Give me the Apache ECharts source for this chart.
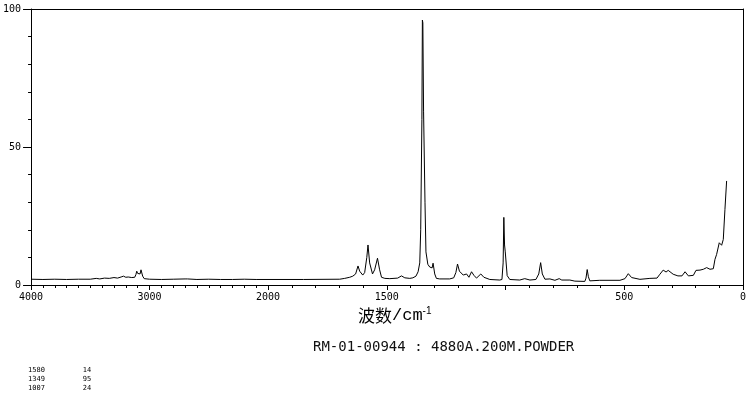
<!DOCTYPE html>
<html>
<head>
<meta charset="utf-8">
<script src="https://cdn.jsdelivr.net/npm/echarts@6/dist/echarts.min.js"></script>
<style>html,body{margin:0;padding:0;background:#fff}#c{width:753px;height:402px}</style>
</head>
<body>
<div id="c"></div>
<script>
// Raman spectrum, 4000-2000 cm-1 (half scale)
const highWavenumbers = [4000,3900,3800,3700,3600,3500,3450,3420,3380,3340,3300,3270,3240,3220,3200,3180,3150,3125,3115,3108,3100,3090,3080,3072,3066,3058,3045,3000,2900,2800,2700,2690,2680,2600,2500,2400,2300,2200,2100,2000];
const highIntensity   = [2.1,2.0,2.1,2.0,2.1,2.1,2.4,2.2,2.5,2.4,2.7,2.5,2.9,3.2,2.8,2.9,2.7,2.8,3.8,5.0,4.2,3.6,4.0,5.5,5.7,3.2,2.3,2.1,2.0,2.1,2.2,2.7,2.2,2.0,2.1,2.0,2.0,2.1,2.0,2.0];
// 2000-0 cm-1
const lowWavenumbers = [2000,1850,1698,1677,1656,1643,1631,1621,1614,1601,1593,1584,1579,1572,1560,1551,1539,1530,1522,1508,1487,1454,1438,1424,1403,1390,1377,1368,1361,1357,1352,1350,1348,1345,1342,1339,1335,1327,1319,1313,1309,1305,1298,1291,1277,1235,1218,1209,1202,1194,1178,1164,1154,1143,1133,1122,1104,1091,1066,1024,1015,1010,1007,1004,1001,993,982,940,919,897,872,860,852,845,834,813,792,774,763,729,708,666,661,656,651,645,603,518,497,483,469,434,392,362,350,336,324,315,294,274,257,244,230,209,198,181,167,153,139,125,118,111,100,90,83,76,69];
const lowIntensity   = [2.0,2.0,2.1,2.4,2.8,3.2,4.0,6.9,5.0,3.6,4.5,10,14.5,8,4.0,5.5,9.7,5.5,2.8,2.4,2.3,2.5,3.3,2.6,2.4,2.6,3.2,4.8,8,20,60,96,95,63,63,30,12,7.5,6.5,7.0,6.2,7.9,4.0,2.4,2.2,2.2,2.6,4.5,7.6,5.0,3.6,4.0,2.8,4.8,3.5,2.5,4.0,2.8,2.0,1.8,2.0,8,24.5,14.5,12,3.4,2.0,1.8,2.3,1.8,2.0,4.0,8.1,4.0,2.1,2.2,1.7,2.3,1.8,1.8,1.4,1.3,2.5,5.6,3.0,1.5,1.7,1.7,2.3,4.1,2.7,2.05,2.4,2.5,3.9,5.4,4.7,5.3,3.9,3.3,3.3,4.8,3.3,3.5,5.3,5.4,5.7,6.3,5.7,5.9,9.3,11.1,15.3,14.4,16.5,27.4,37.7];

const xTickLabels = [4000, 3000, 2000, 1500, 500, 0];
const yTickLabels = [0, 50, 100];
const peakPositions = [1580, 1349, 1007];
const peakValues = [14, 95, 24];
const xAxisNameCJK = '波数';
const xAxisNameUnit = '/cm';
const xAxisNameSup = '-1';
const sampleTitle = 'RM-01-00944 : 4880A.200M.POWDER';

const highData = highWavenumbers.map((w, i) => [w, highIntensity[i]]);
const lowData = lowWavenumbers.map((w, i) => [w, lowIntensity[i]]);

const labelFont = { fontFamily: 'DejaVu Sans Mono', fontSize: 10, color: '#000' };
const lineStyleAxis = { color: '#000', width: 1 };

const peakText = peakPositions.map((p, i) => String(p).padEnd(13, ' ') + String(peakValues[i])).join('\n');

const chart = echarts.init(document.getElementById('c'), null, { renderer: 'canvas' });
chart.setOption({
  animation: false,
  backgroundColor: '#fff',
  title: [
    {
      text: '{a|' + xAxisNameCJK + '}{c|' + xAxisNameUnit + '}{b|' + xAxisNameSup + '}',
      left: 353, top: 301,
      textStyle: {
        rich: {
          a: { fontFamily: 'Noto Sans CJK SC', fontSize: 17, fontWeight: 'normal', color: '#000' },
          c: { fontFamily: 'Liberation Mono', fontSize: 17, fontWeight: 'normal', color: '#000' },
          b: { fontFamily: 'Liberation Sans', fontSize: 10, fontWeight: 'normal', color: '#000', padding: [0, 0, 9, 0] }
        }
      }
    },
    {
      text: sampleTitle,
      left: 308, top: 335,
      textStyle: { fontFamily: 'DejaVu Sans Mono', fontSize: 14, fontWeight: 'normal', color: '#111' }
    },
    {
      text: peakText,
      left: 23, top: 361,
      textStyle: { fontFamily: 'DejaVu Sans Mono', fontSize: 7, lineHeight: 9, fontWeight: 'normal', color: '#000' }
    }
  ],
  grid: [
    { left: 31, right: 753 - 268, top: 9, bottom: 402 - 285 },
    { left: 268, right: 753 - 743, top: 9, bottom: 402 - 285 }
  ],
  xAxis: [
    {
      gridIndex: 0, type: 'value', min: 2000, max: 4000, inverse: true, interval: 1000,
      axisLine: { show: true, lineStyle: lineStyleAxis },
      axisTick: { show: true, length: 5, lineStyle: lineStyleAxis },
      minorTick: { show: true, splitNumber: 10, length: 3, lineStyle: lineStyleAxis },
      splitLine: { show: false }, minorSplitLine: { show: false },
      axisLabel: Object.assign({ margin: 7, formatter: v => (v !== 2000 && xTickLabels.includes(v)) ? String(v) : '' }, labelFont)
    },
    {
      gridIndex: 1, type: 'value', min: 0, max: 2000, inverse: true, interval: 500,
      axisLine: { show: true, lineStyle: lineStyleAxis },
      axisTick: { show: true, length: 5, lineStyle: lineStyleAxis },
      minorTick: { show: true, splitNumber: 5, length: 3, lineStyle: lineStyleAxis },
      splitLine: { show: false }, minorSplitLine: { show: false },
      axisLabel: Object.assign({ margin: 7, showMinLabel: true, showMaxLabel: true, formatter: v => xTickLabels.includes(v) ? String(v) : '' }, labelFont)
    },
    {
      gridIndex: 0, type: 'value', position: 'top', min: 2000, max: 4000,
      axisLine: { show: true, lineStyle: lineStyleAxis }, axisTick: { show: false }, axisLabel: { show: false }, splitLine: { show: false }
    },
    {
      gridIndex: 1, type: 'value', position: 'top', min: 0, max: 2000,
      axisLine: { show: true, lineStyle: lineStyleAxis }, axisTick: { show: false }, axisLabel: { show: false }, splitLine: { show: false }
    }
  ],
  yAxis: [
    {
      gridIndex: 0, type: 'value', min: 0, max: 100, interval: 50,
      axisLine: { show: true, lineStyle: lineStyleAxis },
      axisTick: { show: true, length: 8, lineStyle: lineStyleAxis },
      minorTick: { show: true, splitNumber: 5, length: 3, lineStyle: lineStyleAxis },
      splitLine: { show: false }, minorSplitLine: { show: false },
      axisLabel: Object.assign({ margin: 10, formatter: v => yTickLabels.includes(v) ? String(v) : '' }, labelFont)
    },
    {
      gridIndex: 1, type: 'value', min: 0, max: 100, position: 'right',
      axisLine: { show: true, lineStyle: lineStyleAxis }, axisTick: { show: false }, axisLabel: { show: false }, splitLine: { show: false }
    }
  ],
  series: [
    { type: 'line', xAxisIndex: 0, yAxisIndex: 0, data: highData, showSymbol: false, symbol: 'none', lineStyle: { color: '#000', width: 1 } },
    { type: 'line', xAxisIndex: 1, yAxisIndex: 1, data: lowData, showSymbol: false, symbol: 'none', lineStyle: { color: '#000', width: 1 } }
  ]
});
</script>
</body>
</html>
